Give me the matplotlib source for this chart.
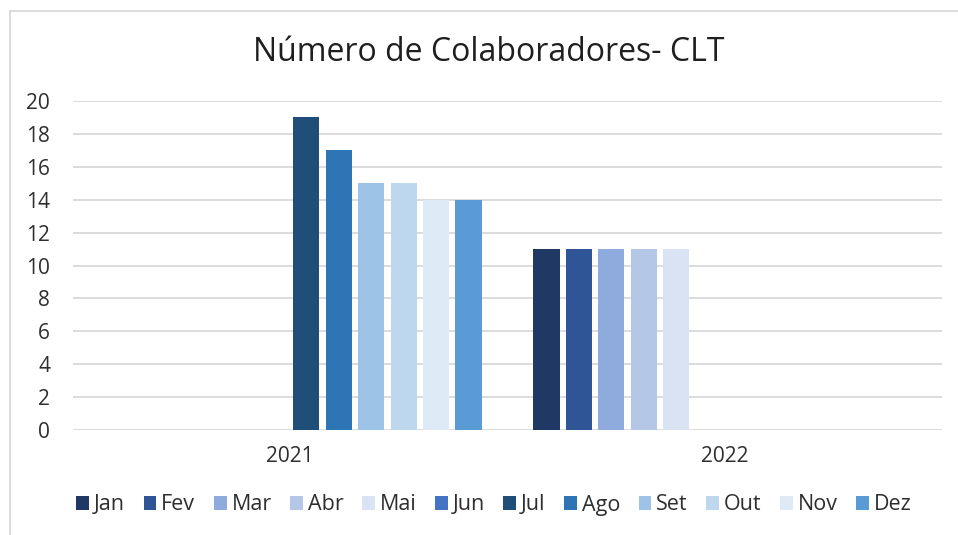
import matplotlib
matplotlib.use("Agg")
import matplotlib.pyplot as plt
from matplotlib.lines import Line2D
import numpy as np

plt.rcParams['font.family'] = ['Open Sans', 'DejaVu Sans']

years = ["2021", "2022"]
months = ["Jan", "Fev", "Mar", "Abr", "Mai", "Jun", "Jul", "Ago", "Set", "Out", "Nov", "Dez"]
values_2021 = [0, 0, 0, 0, 0, 0, 19, 17, 15, 15, 14, 14]
values_2022 = [11, 11, 11, 11, 11, 0, 0, 0, 0, 0, 0, 0]
colors = ["#203864", "#2F5597", "#8FAADC", "#B4C7E7", "#DAE3F3", "#4472C4",
          "#1F4E79", "#2E75B6", "#9DC3E6", "#BDD7EE", "#DEEBF7", "#5B9BD5"]

fig = plt.figure(figsize=(9.58, 5.35), dpi=100)
ax = fig.add_axes([73/958, 105/535, (942-73)/958, (430-101)/535])

x = np.arange(len(years))
pitch = 0.0746
width = 0.06
for i, m in enumerate(months):
    vals = [values_2021[i], values_2022[i]]
    ax.bar(x + (i - 5.5) * pitch, vals, width=width, color=colors[i],
           label=m, edgecolor='none', zorder=3)

ax.set_xlim(-0.5, 1.5)
ax.set_ylim(0, 20)
ax.set_yticks(np.arange(0, 21, 2))
ax.set_xticks(x)
ax.set_xticklabels(years)
ax.grid(axis='y', color='#D9D9D9', linewidth=1.3, zorder=0)
for s in ax.spines.values():
    s.set_visible(False)
ax.tick_params(axis='both', length=0, labelsize=15, labelcolor='#2E2E2E')
ax.tick_params(axis='y', pad=16.5)
ax.tick_params(axis='x', pad=11.5)

fig.text(489/958, 1 - 52/535, "Número de Colaboradores- CLT", ha='center', va='center',
         fontsize=23, color='#1F1F1F')

leg = fig.legend(loc='center', bbox_to_anchor=(494/958, 1 - 505/535), ncol=12,
                 frameon=False, fontsize=15.5, handlelength=0.6, handleheight=0.6,
                 handletextpad=0.23, columnspacing=0.85, labelcolor='#2E2E2E')

fig.add_artist(Line2D([10/958, 10/958], [0, 1 - 11/535], transform=fig.transFigure,
                      color='#D9D9D9', linewidth=1.3))
fig.add_artist(Line2D([10/958, 1], [1 - 11/535, 1 - 11/535], transform=fig.transFigure,
                      color='#D9D9D9', linewidth=1.3))

fig.savefig("out.png", dpi=100)
